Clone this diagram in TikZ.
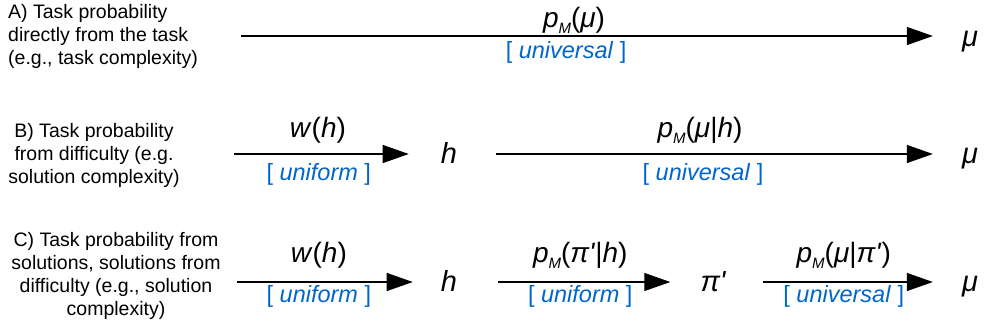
\documentclass[tikz,border=0pt]{standalone}
\usepackage{fontspec}
\setmainfont{Liberation Sans}[Ligatures=TeXOff]
\usetikzlibrary{arrows.meta, calc}
\definecolor{distblue}{RGB}{0,102,204}

\newcommand{\dist}[1]{\textcolor{distblue}{[ \textit{#1} ]}}
\newcommand{\pM}{\textit{p}{\fontsize{15}{15}\selectfont\raisebox{-6pt}{\textit{M}}}}

\begin{document}
\begin{tikzpicture}[x=1pt, y=-1pt, >=Stealth,
    flow/.style={-{Triangle[length=26pt, width=18pt]}, line width=1.1pt},
    note/.style={font=\fontsize{19.5}{23}\selectfont, align=center, inner sep=0pt},
    sym/.style={font=\fontsize{29}{29}\selectfont\itshape, anchor=base, inner sep=0pt},
    prob/.style={font=\fontsize{28}{28}\selectfont, anchor=base, inner sep=0pt},
    kind/.style={font=\fontsize{23.5}{23.5}\selectfont, anchor=base, inner sep=0pt}]
    \useasboundingbox (0,0) rectangle (986,333);

    % A) directly from the task
    \node[note, anchor=west, align=left] (descA) at (8,36) {A) Task probability\\directly from the task\\(e.g., task complexity)};
    \coordinate (startA) at (241,36);
    \node[sym] (muA) at (970,46) {μ};
    \draw[flow, shorten >=29pt] (startA) -- (muA.west |- startA)
        node[prob, pos=0.462, yshift=9pt] {\pM(\textit{μ})}
        node[kind, pos=0.451, yshift=-22pt] {\dist{universal}};

    % B) from difficulty
    \node[note] (descB) at (94,155) {B) Task probability\\from difficulty (e.g.\\solution complexity)};
    \coordinate (startB) at (234,154);
    \node[sym] (hB) at (449,163) {h};
    \node[sym] (muB) at (970,163) {μ};
    \draw[flow, shorten >=32pt] (startB) -- (hB.west |- startB)
        node[prob, pos=0.406, yshift=17pt] {\textit{w}(\textit{h})}
        node[kind, pos=0.41, yshift=-26pt] {\dist{uniform}};
    \draw[flow, shorten <=39pt, shorten >=29pt] (hB.east |- startB) -- (muB.west |- startB)
        node[prob, pos=0.481, yshift=17pt] {\pM(\textit{μ}|\textit{h})}
        node[kind, pos=0.487, yshift=-26pt] {\dist{universal}};

    % C) from solutions, solutions from difficulty
    \node[note] (descC) at (116,276) {C) Task probability from\\solutions, solutions from\\difficulty (e.g., solution\\complexity)};
    \coordinate (startC) at (237,282);
    \node[sym] (hC) at (449,291) {h};
    \node[sym] (piC) at (713,291) {π'};
    \node[sym] (muC) at (970,291) {μ};
    \draw[flow, shorten >=28pt] (startC) -- (hC.west |- startC)
        node[prob, pos=0.402, yshift=20pt] {\textit{w}(\textit{h})}
        node[kind, pos=0.402, yshift=-20pt] {\dist{uniform}};
    \draw[flow, shorten <=41pt, shorten >=30pt] (hC.east |- startC) -- (piC.west |- startC)
        node[prob, pos=0.506, yshift=20pt] {\pM(\textit{π'}|\textit{h})}
        node[kind, pos=0.506, yshift=-20pt] {\dist{uniform}};
    \draw[flow, shorten <=37pt, shorten >=29pt] (piC.east |- startC) -- (muC.west |- startC)
        node[prob, pos=0.5, yshift=20pt] {\pM(\textit{μ}|\textit{π'})}
        node[kind, pos=0.5, yshift=-20pt] {\dist{universal}};
\end{tikzpicture}
\end{document}
